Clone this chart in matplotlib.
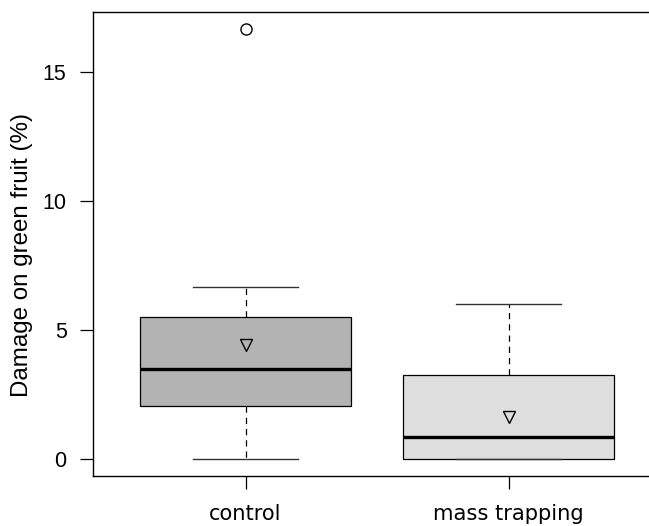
import matplotlib
matplotlib.use("Agg")
import matplotlib.pyplot as plt

categories = ["control", "mass trapping"]
whislo = [0.0, 0.0]
q1 = [2.03, 0.0]
medians = [3.50, 0.85]
q3 = [5.49, 3.26]
whishi = [6.67, 6.0]
means = [4.42, 1.64]
outliers = [[16.67], []]
fills = ["#b3b3b3", "#dedede"]
yticks = [0, 5, 10, 15]

fig = plt.figure(figsize=(6.49, 5.26), dpi=100)
ax = fig.add_axes([93/649, 50/526, 1 - 93/649, (476-12)/526])

stats = []
for i, c in enumerate(categories):
    stats.append(dict(label=c, whislo=whislo[i], q1=q1[i], med=medians[i],
                      q3=q3[i], whishi=whishi[i], mean=means[i], fliers=outliers[i]))

bp = ax.bxp(stats, positions=[1, 2], widths=0.8, patch_artist=True,
            showmeans=True, showfliers=True,
            boxprops=dict(edgecolor="black", linewidth=0.9),
            medianprops=dict(color="black", linewidth=2.4, solid_capstyle="butt"),
            whiskerprops=dict(color="black", linestyle=(0, (5, 4)), linewidth=0.9),
            capprops=dict(color="#333333", linewidth=1.0),
            capwidths=0.4,
            meanprops=dict(marker="v", markerfacecolor="none", markeredgecolor="black",
                           markersize=9, markeredgewidth=1.0),
            flierprops=dict(marker="o", markerfacecolor="none", markeredgecolor="black",
                            markersize=8, markeredgewidth=1.0))
for patch, col in zip(bp["boxes"], fills):
    patch.set_facecolor(col)

ax.set_xlim(0.42, 2.534)
ax.set_ylim(-0.667, 17.33)
ax.spines["right"].set_visible(False)
for s in ["left", "top", "bottom"]:
    ax.spines[s].set_linewidth(1.0)

ax.set_yticks(yticks)
ax.set_yticklabels([str(t) for t in yticks], family="Liberation Sans", fontsize=15.5)
ax.set_xticks([1, 2])
ax.set_xticklabels(categories, family="DejaVu Sans", fontsize=15.1)
ax.tick_params(axis="y", length=9.5, width=0.9, pad=9.5)
ax.tick_params(axis="x", length=9.5, width=0.9, pad=11)
ax.set_ylabel("Damage on green fruit (%)", family="Liberation Sans", fontsize=17.4)
ax.yaxis.set_label_coords(-0.108, 0.477)

fig.savefig("out.png", dpi=100)
